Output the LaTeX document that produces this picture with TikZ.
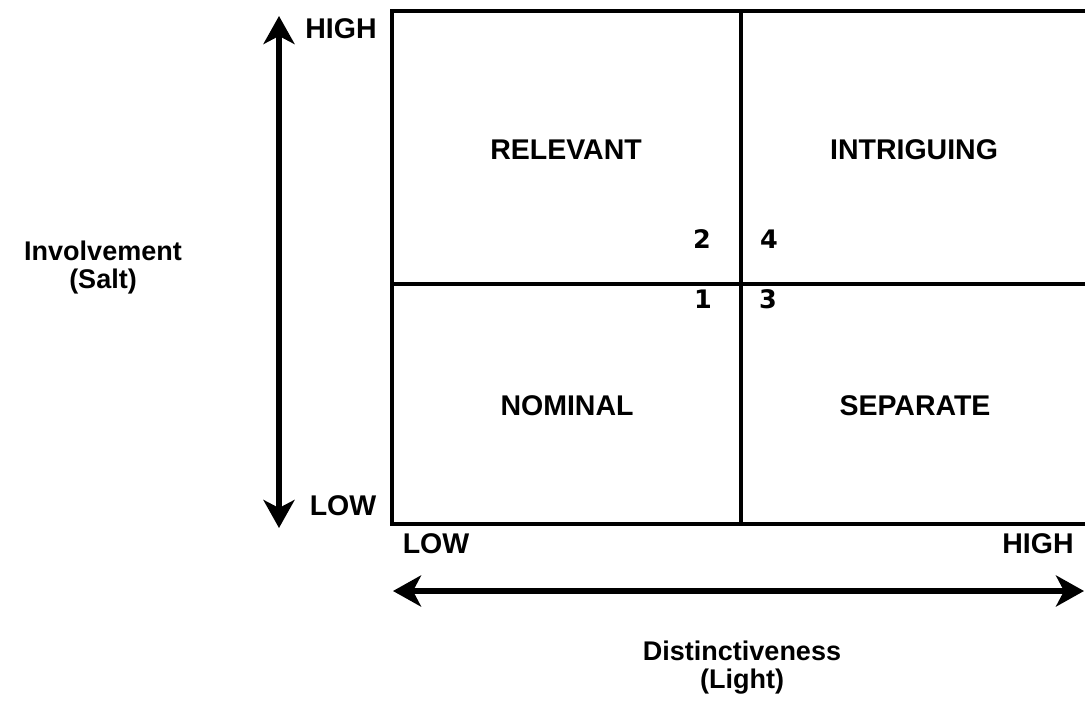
\documentclass[tikz,border=0pt]{standalone}
\usepackage{fontspec}
\setmainfont{Liberation Sans}
\newfontfamily\numfont{DejaVu Sans}
\usetikzlibrary{arrows.meta}
\begin{document}
\begin{tikzpicture}[x=1pt,y=-1pt,
  lbl/.style={font=\fontsize{28.5}{30}\selectfont\bfseries, inner sep=0pt, anchor=base},
  num/.style={font=\fontsize{25.5}{28}\selectfont\numfont\bfseries, inner sep=0pt, anchor=base},
  axis/.style={align=center, font=\fontsize{27}{28}\selectfont\bfseries, inner sep=0pt},
  gridline/.style={line width=3.6pt},
  bigarrow/.style={line width=5.5pt, {Stealth[length=28pt,width=31pt,inset=8pt]}-{Stealth[length=28pt,width=31pt,inset=8pt]}}
]
\useasboundingbox (0,0) rectangle (1085,702);
% grid
\coordinate (tl) at (392,11);
\coordinate (br) at (1090,524);
\coordinate (mt) at (741,11);
\coordinate (mb) at (741,524);
\coordinate (ml) at (392,284);
\coordinate (mr) at (1090,284);
\draw[gridline] (tl) rectangle (br);
\draw[gridline] (mt) -- (mb);
\draw[gridline] (ml) -- (mr);
% axes arrows
\coordinate (vtop) at (279,16);
\coordinate (vbot) at (279,528);
\coordinate (hl) at (393,591);
\coordinate (hr) at (1084,591);
\draw[bigarrow] (vbot) -- (vtop);
\draw[bigarrow] (hl) -- (hr);
% tick labels
\node[lbl] (yhigh) at (341,38) {HIGH};
\node[lbl] (ylow) at (343,515) {LOW};
\node[lbl] (xlow) at (436,553) {LOW};
\node[lbl] (xhigh) at (1038,553) {HIGH};
% quadrant labels
\node[lbl] (relevant) at (566,159) {RELEVANT};
\node[lbl] (intriguing) at (914,159) {INTRIGUING};
\node[lbl] (nominal) at (567,415) {NOMINAL};
\node[lbl] (separate) at (915,415) {SEPARATE};
% numbers
\node[num] (n2) at (702,248) {2};
\node[num] (n4) at (769,248) {4};
\node[num] (n1) at (703,308) {1};
\node[num] (n3) at (768,308) {3};
% axis titles
\node[axis] (ytitle) at (103,268) {Involvement\\(Salt)};
\node[axis] (xtitle) at (742,668) {Distinctiveness\\(Light)};
\end{tikzpicture}
\end{document}
